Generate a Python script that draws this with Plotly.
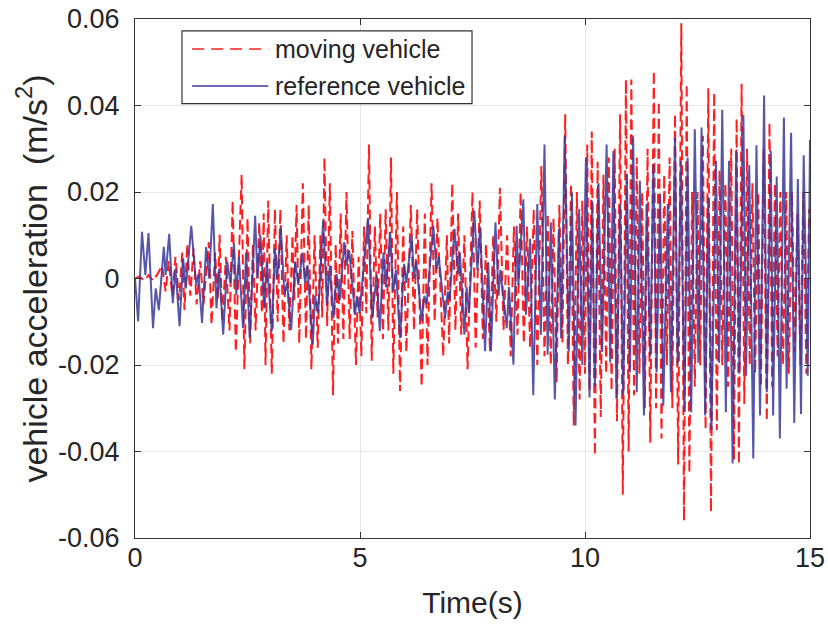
import plotly.graph_objects as go

# ---------------- data ----------------
red_t = [0, 0.1, 0.2, 0.3, 0.4, 0.5, 0.6, 0.68, 0.75, 0.83, 0.9, 0.98, 1.05, 1.1, 1.16, 1.23, 1.3, 1.37,
         1.45, 1.52, 1.64, 1.7, 1.78, 1.84, 1.88, 1.94, 2.02, 2.1, 2.17, 2.24, 2.37, 2.43, 2.5, 2.56,
         2.62, 2.68, 2.76, 2.82, 2.86, 2.9, 2.96, 3.04, 3.11, 3.17, 3.23, 3.3, 3.37, 3.43, 3.5, 3.54,
         3.59, 3.65, 3.73, 3.8, 3.86, 3.92, 3.99, 4.06, 4.12, 4.16, 4.21, 4.27, 4.33, 4.4, 4.46, 4.51,
         4.57, 4.63, 4.7, 4.77, 4.83, 4.91, 4.97, 5.03, 5.09, 5.14, 5.2, 5.26, 5.33, 5.39, 5.45, 5.51,
         5.57, 5.63, 5.69, 5.74, 5.82, 5.89, 5.96, 6.03, 6.13, 6.2, 6.27, 6.37, 6.44, 6.5, 6.59, 6.66,
         6.72, 6.85, 6.93, 6.98, 7.05, 7.12, 7.18, 7.25, 7.32, 7.39, 7.5, 7.57, 7.66, 7.73, 7.8, 7.89,
         7.96, 8.03, 8.11, 8.19, 8.27, 8.35, 8.42, 8.5, 8.57, 8.64, 8.71, 8.78, 8.86, 8.94, 9.03, 9.1,
         9.17, 9.24, 9.3, 9.37, 9.43, 9.5, 9.56, 9.62, 9.69, 9.75, 9.82, 9.88, 9.94, 10.0, 10.05, 10.1,
         10.15, 10.22, 10.28, 10.35, 10.41, 10.47, 10.53, 10.59, 10.66, 10.71, 10.78, 10.84, 10.91, 10.97,
         11.03, 11.09, 11.15, 11.21, 11.27, 11.33, 11.39, 11.45, 11.53, 11.58, 11.64, 11.7, 11.76, 11.82,
         11.88, 11.94, 12.0, 12.07, 12.14, 12.2, 12.26, 12.32, 12.38, 12.44, 12.5, 12.56, 12.62, 12.68,
         12.74, 12.8, 12.87, 12.93, 12.99, 13.05, 13.12, 13.18, 13.25, 13.31, 13.37, 13.42, 13.48, 13.54,
         13.6, 13.66, 13.72, 13.78, 13.85, 13.91, 13.97, 14.04, 14.1, 14.16, 14.22, 14.28, 14.34, 14.4,
         14.47, 14.53, 14.6, 14.66, 14.72, 14.79, 14.85, 14.92, 14.98]
red_v = [0, 0.0005, -0.0005, 0.0008, -0.0005, 0.001, 0.003, -0.003, 0.004, -0.004, 0.005, -0.005, 0.006,
         -0.0073, 0.008, -0.004, 0.007, -0.006, 0.004, -0.006, 0.0084, -0.0107, 0.006, -0.005, 0.0101,
         -0.0099, 0.005, -0.012, 0.018, -0.017, 0.024, -0.021, 0.014, -0.015, 0.008, -0.012, 0.013,
         -0.008, 0.015, -0.02, 0.018, -0.022, 0.016, -0.01, 0.016, -0.015, 0.01, -0.012, 0.01, -0.005,
         0.017, -0.015, 0.022, -0.014, 0.017, -0.021, 0.01, -0.016, 0.01, -0.009, 0.028, -0.011, 0.022,
         -0.027, 0.008, -0.015, 0.015, -0.014, 0.02, -0.014, 0.011, -0.02, 0.005, -0.018, 0.012, -0.008,
         0.031, -0.019, 0.012, -0.009, 0.015, -0.014, 0.016, -0.012, 0.028, -0.022, 0.02, -0.026, 0.012,
         -0.017, 0.017, -0.012, 0.016, -0.025, 0.015, -0.02, 0.022, -0.01, 0.014, -0.018, 0.01, -0.015,
         0.022, -0.012, 0.015, -0.013, 0.01, -0.021, 0.02, -0.016, 0.018, -0.014, 0.008, -0.017, 0.01,
         -0.01, 0.021, -0.012, 0.01, -0.018, 0.012, -0.013, 0.02, -0.015, 0.012, -0.016, 0.016, -0.02,
         0.026, -0.018, 0.015, -0.02, 0.014, -0.024, 0.017, -0.015, 0.038, -0.02, 0.022, -0.034, 0.02,
         -0.028, 0.018, -0.022, 0.031, -0.026, 0.034, -0.041, 0.027, -0.032, 0.024, -0.022, 0.028, -0.026,
         0.03, -0.033, 0.038, -0.05, 0.046, -0.04, 0.046, -0.027, 0.028, -0.022, 0.02, -0.03, 0.03, -0.038,
         0.048, -0.03, 0.041, -0.037, 0.024, -0.02, 0.028, -0.03, 0.038, -0.043, 0.059, -0.056, 0.045,
         -0.045, 0.02, -0.025, 0.02, -0.02, 0.033, -0.035, 0.044, -0.054, 0.043, -0.035, 0.025, -0.02,
         0.022, -0.025, 0.03, -0.042, 0.037, -0.043, 0.045, -0.029, 0.03, -0.02, 0.022, -0.022, 0.02,
         -0.025, 0.03, -0.033, 0.036, -0.025, 0.022, -0.018, 0.02, -0.02, 0.02, -0.022, 0.02, -0.017,
         0.015, -0.02, 0.02, -0.022, 0.016]

blue_t = [0, 0.07, 0.155, 0.23, 0.3, 0.4, 0.46, 0.53, 0.64, 0.68, 0.76, 0.84, 0.9, 0.99, 1.07, 1.13, 1.25,
          1.36, 1.41, 1.49, 1.58, 1.65, 1.73, 1.81, 1.87, 1.96, 2.05, 2.12, 2.2, 2.25, 2.31, 2.4, 2.47,
          2.55, 2.67, 2.72, 2.79, 2.87, 2.93, 3.04, 3.11, 3.16, 3.24, 3.32, 3.38, 3.47, 3.56, 3.63, 3.72,
          3.78, 3.83, 3.95, 4.0, 4.07, 4.18, 4.27, 4.33, 4.41, 4.48, 4.55, 4.65, 4.7, 4.76, 4.89, 4.93,
          4.99, 5.18, 5.27, 5.37, 5.44, 5.52, 5.58, 5.67, 5.74, 5.8, 5.89, 5.98, 6.03, 6.15, 6.2, 6.25,
          6.37, 6.43, 6.48, 6.63, 6.7, 6.75, 6.89, 6.95, 6.99, 7.1, 7.18, 7.22, 7.32, 7.37, 7.42, 7.54,
          7.61, 7.67, 7.78, 7.85, 7.91, 8.01, 8.08, 8.12, 8.26, 8.31, 8.41, 8.48, 8.52, 8.63, 8.69, 8.78,
          8.85, 8.94, 9.02, 9.1, 9.17, 9.24, 9.33, 9.42, 9.47, 9.55, 9.64, 9.71, 9.79, 9.87, 9.94, 10.02,
          10.1, 10.16, 10.22, 10.3, 10.38, 10.48, 10.56, 10.63, 10.7, 10.78, 10.85, 10.93, 11.0, 11.07,
          11.15, 11.22, 11.31, 11.37, 11.45, 11.52, 11.59, 11.67, 11.74, 11.84, 11.91, 12.0, 12.06, 12.13,
          12.21, 12.28, 12.36, 12.44, 12.52, 12.59, 12.67, 12.74, 12.81, 12.91, 12.98, 13.05, 13.13, 13.2,
          13.28, 13.36, 13.43, 13.52, 13.58, 13.65, 13.74, 13.81, 13.89, 13.98, 14.04, 14.13, 14.18, 14.26,
          14.33, 14.42, 14.48, 14.58, 14.65, 14.73, 14.8, 14.86, 14.95, 15.0]
blue_v = [0, -0.0099, 0.0108, 0.0008, 0.0105, -0.0115, -0.0023, -0.0073, 0.0073, 0.0008, 0.0103, -0.0057,
          0.0023, -0.011, 0.0046, -0.0023, 0.0122, -0.0015, 0.001, -0.0103, 0.0073, 0.0, 0.0172, -0.0069,
          0.0023, -0.013, 0.0039, -0.001, 0.008, -0.0038, 0.005, -0.0115, 0.006, -0.0138, 0.0145, 0.0,
          0.0099, -0.0069, 0.0039, -0.0122, 0.0069, 0.0, 0.0118, -0.0038, -0.001, -0.0119, 0.0039, -0.0015,
          0.006, -0.001, 0.003, -0.0153, -0.004, -0.008, 0.0134, -0.0061, 0.003, -0.0092, 0.001, -0.005,
          0.0084, 0.003, 0.0065, -0.0084, -0.004, -0.008, 0.014, -0.0092, 0.0008, -0.0122, 0.006, -0.002,
          0.0107, -0.003, 0.002, -0.0138, 0.0034, -0.001, 0.0099, 0.0, 0.004, -0.0099, -0.004, -0.006,
          0.0122, 0.002, 0.005, -0.0092, -0.003, -0.005, 0.0115, 0.001, 0.006, -0.013, -0.002, -0.008,
          0.0157, 0.002, 0.012, -0.0168, 0.0038, -0.0168, 0.013, -0.004, 0.002, -0.0115, -0.002, -0.0199,
          0.0122, -0.0015, 0.0183, -0.0084, 0.0092, -0.027, 0.0172, -0.013, 0.031, -0.0176, 0.013, -0.028,
          0.0115, -0.0138, 0.033, -0.0168, 0.0199, -0.034, 0.0161, -0.02, 0.028, -0.0275, 0.018, -0.025,
          0.022, -0.017, 0.031, -0.0194, 0.0295, -0.0278, 0.0173, -0.027, 0.0241, -0.0217, 0.0329, -0.0263,
          0.0226, -0.0317, 0.0173, -0.018, 0.0264, -0.0217, 0.0196, -0.0294, 0.0173, -0.0263, 0.0326, -0.02,
          0.0272, -0.0309, 0.028, -0.0309, 0.0345, -0.0195, 0.0349, -0.0317, 0.0188, -0.0351, 0.0272,
          -0.0195, 0.039, -0.0309, 0.0272, -0.0428, 0.0295, -0.022, 0.0378, -0.0225, 0.0262, -0.0416, 0.0308,
          -0.0317, 0.0423, -0.0263, 0.0295, -0.0317, 0.0236, -0.037, 0.0372, -0.0255, 0.0337, -0.0334, 0.023,
          -0.0313, 0.0285, -0.0225, 0.032]

y_ticks = [-0.06, -0.04, -0.02, 0, 0.02, 0.04, 0.06]
y_tick_text = ["-0.06", "-0.04", "-0.02", "0", "0.02", "0.04", "0.06"]
x_ticks = [0, 5, 10, 15]
legend_names = ["moving vehicle", "reference vehicle"]

RED = "#ff1f1f"
BLUE = "#3a3a9c"
FONT = "Liberation Sans, Arial, sans-serif"

fig = go.Figure()
fig.add_trace(go.Scatter(x=red_t, y=red_v, mode="lines", name=legend_names[0],
                         line=dict(color=RED, width=2, dash="10px,5px"), showlegend=False))
fig.add_trace(go.Scatter(x=blue_t, y=blue_v, mode="lines", name=legend_names[1],
                         line=dict(color=BLUE, width=2), opacity=0.85, showlegend=False))

axis_common = dict(showline=True, linecolor="#333333", linewidth=1.2, mirror="ticks",
                   ticks="inside", ticklen=6, tickcolor="#333333", automargin=False,
                   showgrid=True, gridcolor="#e6e6e6", gridwidth=1, zeroline=False,
                   tickfont=dict(family=FONT, size=27, color="#262626"))

fig.update_xaxes(range=[0, 15], tickvals=x_ticks, ticktext=[str(v) for v in x_ticks],
                 ticklabelstandoff=-5,
                 title=dict(text="Time(s)", font=dict(family=FONT, size=30, color="#262626"), standoff=20),
                 **axis_common)
fig.update_yaxes(range=[-0.06, 0.06], tickvals=y_ticks, ticktext=y_tick_text,
                 ticklabelstandoff=9,
                 title=dict(text="vehicle acceleration  (m/s<sup>2</sup>)",
                            font=dict(family=FONT, size=34, color="#262626"), standoff=0),
                 **axis_common)

# legend box drawn in paper coordinates
L_x0, L_x1, L_y0, L_y1 = 0.0696, 0.4993, 0.837, 0.977
shapes = [
    dict(type="rect", xref="paper", yref="paper", x0=L_x0, x1=L_x1, y0=L_y0, y1=L_y1,
         line=dict(color="#333333", width=1.2), fillcolor="white", layer="above"),
    dict(type="line", xref="paper", yref="paper", x0=L_x0 + 0.015, x1=L_x0 + 0.128,
         y0=L_y1 - 0.035, y1=L_y1 - 0.035, line=dict(color=RED, width=1.5, dash="12px,7px"), layer="above"),
    dict(type="line", xref="paper", yref="paper", x0=L_x0 + 0.015, x1=L_x0 + 0.128,
         y0=L_y0 + 0.034, y1=L_y0 + 0.034, line=dict(color=BLUE, width=1.5), layer="above"),
]
annotations = [
    dict(xref="paper", yref="paper", x=L_x0 + 0.135, y=L_y1 - 0.035, text=legend_names[0],
         showarrow=False, xanchor="left", yanchor="middle",
         font=dict(family=FONT, size=25, color="#262626")),
    dict(xref="paper", yref="paper", x=L_x0 + 0.135, y=L_y0 + 0.034, text=legend_names[1],
         showarrow=False, xanchor="left", yanchor="middle",
         font=dict(family=FONT, size=25, color="#262626")),
]

fig.update_layout(width=828, height=632, margin=dict(l=135, r=18, t=19, b=94),
                  paper_bgcolor="white", plot_bgcolor="white",
                  shapes=shapes, annotations=annotations, showlegend=False)

fig.write_html("out.html")
